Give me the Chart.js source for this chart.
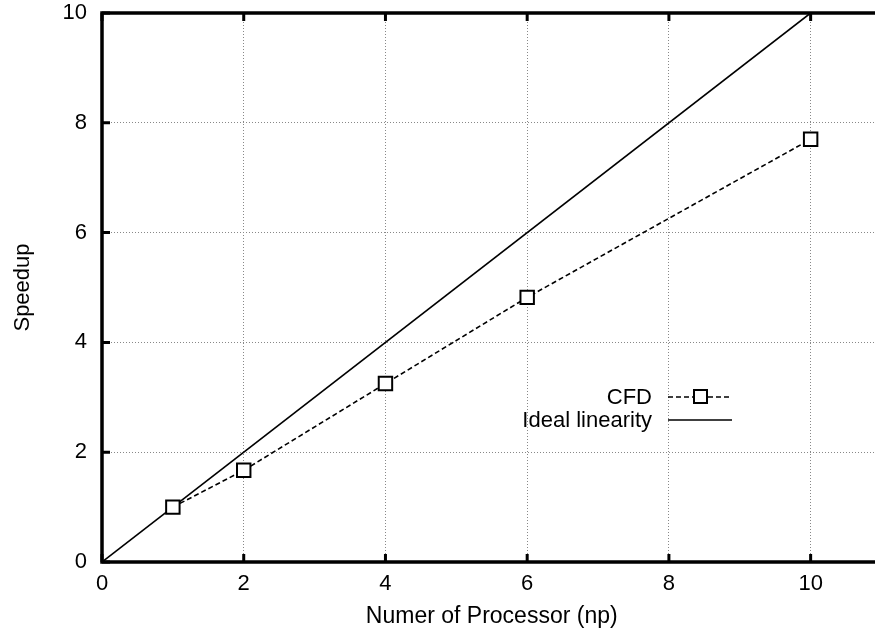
<!DOCTYPE html>
<html>
<head>
<meta charset="utf-8">
<script src="https://cdn.jsdelivr.net/npm/chart.js@4"></script>
<style>
  html, body { margin: 0; padding: 0; background: #fff; overflow: hidden; }
  #wrap { width: 893px; height: 634px; }
</style>
</head>
<body>
<div id="wrap"><canvas id="speedupChart" width="893" height="634"></canvas></div>
<script>
const processors = [1, 2, 4, 6, 10];
const cfdSpeedup = [1, 1.67, 3.25, 4.82, 7.7];
const idealX = [0, 10];
const idealY = [0, 10];
const xTicks = [0, 2, 4, 6, 8, 10];
const yTicks = [0, 2, 4, 6, 8, 10];

const FONT = "'Liberation Sans', Arial, sans-serif";
const FS = 22;

// frame, inward ticks and legend like the gnuplot original
const framePlugin = {
  id: 'frame',
  afterDatasetsDraw(chart) {
    const { ctx, chartArea: a, scales: { x, y } } = chart;
    ctx.save();
    ctx.strokeStyle = '#000';
    ctx.lineWidth = 3;
    ctx.beginPath();
    xTicks.forEach(v => {
      const px = x.getPixelForValue(v);
      ctx.moveTo(px, a.bottom); ctx.lineTo(px, a.bottom - 8);
      ctx.moveTo(px, a.top); ctx.lineTo(px, a.top + 8);
    });
    yTicks.forEach(v => {
      const py = y.getPixelForValue(v);
      ctx.moveTo(a.left, py); ctx.lineTo(a.left + 8, py);
    });
    ctx.stroke();
    ctx.lineWidth = 3.5;
    ctx.strokeRect(a.left, a.top, a.right - a.left, a.bottom - a.top);

    // legend
    ctx.font = FS + 'px ' + FONT;
    ctx.fillStyle = '#000';
    ctx.textAlign = 'right';
    ctx.textBaseline = 'middle';
    const tx = 652, l0 = 668, l1 = 732;
    ctx.fillText('CFD', tx, 398);
    ctx.fillText('Ideal linearity', tx, 421);
    ctx.lineWidth = 1.5;
    ctx.setLineDash([5, 3]);
    ctx.beginPath(); ctx.moveTo(l0, 397); ctx.lineTo(l1, 397); ctx.stroke();
    ctx.setLineDash([]);
    ctx.lineWidth = 2;
    ctx.fillStyle = '#fff';
    ctx.fillRect(694, 390, 13, 13);
    ctx.strokeRect(694, 390, 13, 13);
    ctx.lineWidth = 1.5;
    ctx.beginPath(); ctx.moveTo(l0, 420); ctx.lineTo(l1, 420); ctx.stroke();
    ctx.restore();
  }
};

new Chart(document.getElementById('speedupChart'), {
  type: 'scatter',
  data: {
    datasets: [
      {
        label: 'Ideal linearity',
        data: idealX.map((v, i) => ({ x: v, y: idealY[i] })),
        showLine: true,
        borderColor: '#000',
        borderWidth: 1.6,
        pointRadius: 0,
        order: 2
      },
      {
        label: 'CFD',
        data: processors.map((v, i) => ({ x: v, y: cfdSpeedup[i] })),
        showLine: true,
        borderColor: '#000',
        borderWidth: 1.6,
        borderDash: [5, 3],
        pointStyle: 'rect',
        pointRadius: 9.5,
        pointBorderWidth: 2,
        pointBackgroundColor: '#fff',
        pointBorderColor: '#000',
        order: 1
      }
    ]
  },
  options: {
    responsive: false,
    animation: false,
    layout: { padding: { left: 0, top: 13, right: 0, bottom: 0 } },
    plugins: {
      legend: { display: false },
      tooltip: { enabled: false }
    },
    scales: {
      x: {
        type: 'linear',
        min: 0, max: 11,
        afterBuildTicks: s => { s.ticks = xTicks.map(v => ({ value: v })); },
        afterFit: s => { s.height = 72; },
        grid: { color: '#888', lineWidth: 1, drawTicks: false },
        border: { display: false, dash: [1, 2] },
        ticks: { color: '#000', padding: 9, font: { family: FONT, size: FS } },
        title: { display: true, text: 'Numer of Processor (np)', color: '#000', padding: { top: 0, bottom: 4 }, font: { family: FONT, size: 23 } }
      },
      y: {
        type: 'linear',
        min: 0, max: 10,
        afterBuildTicks: s => { s.ticks = yTicks.map(v => ({ value: v })); },
        afterFit: s => { s.width = 102; s.paddingTop = 0; s.paddingBottom = 0; },
        grid: { color: '#888', lineWidth: 1, drawTicks: false },
        border: { display: false, dash: [1, 2] },
        ticks: { color: '#000', padding: 15, font: { family: FONT, size: FS } },
        title: { display: true, text: 'Speedup', color: '#000', padding: { top: 10, bottom: 0 }, font: { family: FONT, size: FS } }
      }
    }
  },
  plugins: [framePlugin]
});
</script>
</body>
</html>
